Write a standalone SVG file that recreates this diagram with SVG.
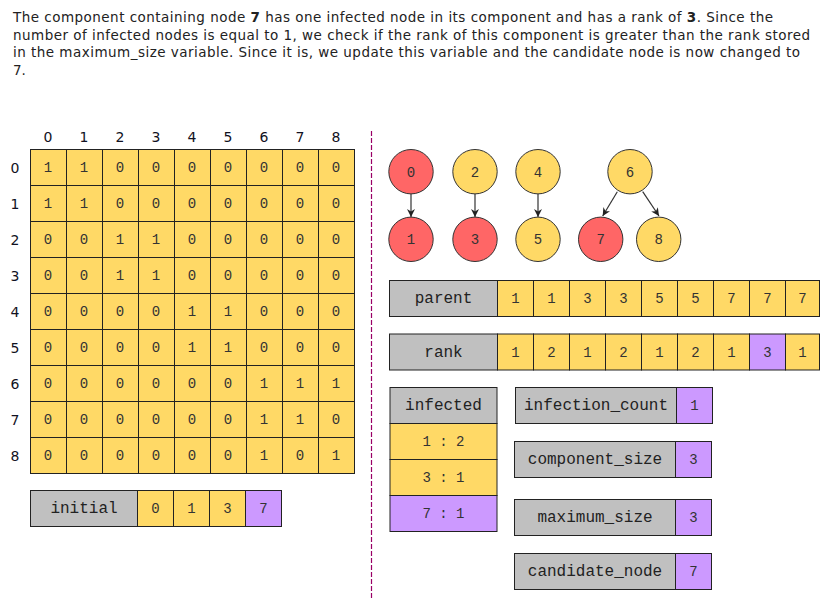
<svg xmlns="http://www.w3.org/2000/svg" width="827" height="600" viewBox="0 0 827 600">
<style>
.y{fill:#FFD966;stroke:#222;stroke-width:1}
.p{fill:#CC99FF;stroke:#222;stroke-width:1}
.g{fill:#C0C0C0;stroke:#222;stroke-width:1}
.r{fill:#FF6666;stroke:#333;stroke-width:1}
.ny{fill:#FFD966;stroke:#333;stroke-width:1}
.t{font-family:"Liberation Mono","Courier New",monospace;font-size:14px;fill:#333;text-anchor:middle}
.l{font-family:"Liberation Mono","Courier New",monospace;font-size:16px;fill:#222;text-anchor:middle}
.h{font-family:"DejaVu Sans",Verdana,sans-serif;font-size:14px;fill:#112;text-anchor:middle}
.para{font-family:"DejaVu Sans",Verdana,sans-serif;font-size:13.5px;fill:#222}
.e{stroke:#333;stroke-width:1.2;fill:none;marker-end:url(#ah)}
</style>
<defs>
<marker id="ah" viewBox="0 0 10 10" refX="10" refY="5" markerWidth="8" markerHeight="8" markerUnits="userSpaceOnUse" orient="auto">
<path d="M0,0 L10,5 L0,10 L3,5 Z" fill="#222"/>
</marker>
</defs>
<rect width="827" height="600" fill="#fff"/>
<g id="paragraph">
<text class="para" x="13" y="22" textLength="760" lengthAdjust="spacing">The component containing node <tspan font-weight="bold">7</tspan> has one infected node in its component and has a rank of <tspan font-weight="bold">3</tspan>. Since the</text>
<text class="para" x="13" y="39.5" textLength="797" lengthAdjust="spacing">number of infected nodes is equal to 1, we check if the rank of this component is greater than the rank stored</text>
<text class="para" x="13" y="57" textLength="787" lengthAdjust="spacing">in the maximum_size variable. Since it is, we update this variable and the candidate node is now changed to</text>
<text class="para" x="13" y="74.5">7.</text>
</g>
<line x1="371.5" y1="131" x2="371.5" y2="600" stroke="#990066" stroke-width="1.2" stroke-dasharray="5,2"/>
<g id="matrix">
<g class="h">
<text x="48" y="142">0</text><text x="84" y="142">1</text><text x="120" y="142">2</text><text x="156" y="142">3</text><text x="192" y="142">4</text><text x="228" y="142">5</text><text x="264" y="142">6</text><text x="300" y="142">7</text><text x="336" y="142">8</text>
<text x="15" y="172.5">0</text><text x="15" y="208.5">1</text><text x="15" y="244.5">2</text><text x="15" y="280.5">3</text><text x="15" y="316.5">4</text><text x="15" y="352.5">5</text><text x="15" y="388.5">6</text><text x="15" y="424.5">7</text><text x="15" y="460.5">8</text>
</g>
<g id="cells">
<rect class="y" x="30.5" y="149.5" width="324" height="324"/>
<path d="M66.5,149.5V473.5M102.5,149.5V473.5M138.5,149.5V473.5M174.5,149.5V473.5M210.5,149.5V473.5M246.5,149.5V473.5M282.5,149.5V473.5M318.5,149.5V473.5M30.5,185.5H354.5M30.5,221.5H354.5M30.5,257.5H354.5M30.5,293.5H354.5M30.5,329.5H354.5M30.5,365.5H354.5M30.5,401.5H354.5M30.5,437.5H354.5" stroke="#222" stroke-width="1" fill="none"/>
</g>
<g class="t">
<text x="48" y="172">1</text><text x="84" y="172">1</text><text x="120" y="172">0</text><text x="156" y="172">0</text><text x="192" y="172">0</text><text x="228" y="172">0</text><text x="264" y="172">0</text><text x="300" y="172">0</text><text x="336" y="172">0</text>
<text x="48" y="208">1</text><text x="84" y="208">1</text><text x="120" y="208">0</text><text x="156" y="208">0</text><text x="192" y="208">0</text><text x="228" y="208">0</text><text x="264" y="208">0</text><text x="300" y="208">0</text><text x="336" y="208">0</text>
<text x="48" y="244">0</text><text x="84" y="244">0</text><text x="120" y="244">1</text><text x="156" y="244">1</text><text x="192" y="244">0</text><text x="228" y="244">0</text><text x="264" y="244">0</text><text x="300" y="244">0</text><text x="336" y="244">0</text>
<text x="48" y="280">0</text><text x="84" y="280">0</text><text x="120" y="280">1</text><text x="156" y="280">1</text><text x="192" y="280">0</text><text x="228" y="280">0</text><text x="264" y="280">0</text><text x="300" y="280">0</text><text x="336" y="280">0</text>
<text x="48" y="316">0</text><text x="84" y="316">0</text><text x="120" y="316">0</text><text x="156" y="316">0</text><text x="192" y="316">1</text><text x="228" y="316">1</text><text x="264" y="316">0</text><text x="300" y="316">0</text><text x="336" y="316">0</text>
<text x="48" y="352">0</text><text x="84" y="352">0</text><text x="120" y="352">0</text><text x="156" y="352">0</text><text x="192" y="352">1</text><text x="228" y="352">1</text><text x="264" y="352">0</text><text x="300" y="352">0</text><text x="336" y="352">0</text>
<text x="48" y="388">0</text><text x="84" y="388">0</text><text x="120" y="388">0</text><text x="156" y="388">0</text><text x="192" y="388">0</text><text x="228" y="388">0</text><text x="264" y="388">1</text><text x="300" y="388">1</text><text x="336" y="388">1</text>
<text x="48" y="424">0</text><text x="84" y="424">0</text><text x="120" y="424">0</text><text x="156" y="424">0</text><text x="192" y="424">0</text><text x="228" y="424">0</text><text x="264" y="424">1</text><text x="300" y="424">1</text><text x="336" y="424">0</text>
<text x="48" y="460">0</text><text x="84" y="460">0</text><text x="120" y="460">0</text><text x="156" y="460">0</text><text x="192" y="460">0</text><text x="228" y="460">0</text><text x="264" y="460">1</text><text x="300" y="460">0</text><text x="336" y="460">1</text>
</g>
</g>
<g id="initial">
<rect class="g" x="30.5" y="490.5" width="107" height="36"/>
<rect class="y" x="137.5" y="490.5" width="36" height="36"/>
<rect class="y" x="173.5" y="490.5" width="36" height="36"/>
<rect class="y" x="209.5" y="490.5" width="36" height="36"/>
<rect class="p" x="245.5" y="490.5" width="36" height="36"/>
<text class="l" x="84" y="513">initial</text>
<text class="t" x="155.5" y="513">0</text><text class="t" x="191.5" y="513">1</text><text class="t" x="227.5" y="513">3</text><text class="t" x="263.5" y="513">7</text>
</g>
<g id="connectors">
<line class="e" x1="411" y1="194" x2="411" y2="217"/>
<line class="e" x1="475" y1="194" x2="475" y2="217"/>
<line class="e" x1="538" y1="194" x2="538" y2="217"/>
<line class="e" x1="617.3" y1="191.7" x2="602.7" y2="216"/>
<line class="e" x1="642.7" y1="191.7" x2="659" y2="216"/>
</g>
<g id="node0"><circle class="r" cx="411" cy="171.7" r="22.2"/><text class="t" x="411" y="176.5">0</text></g>
<g id="node2"><circle class="ny" cx="475" cy="171.7" r="22.2"/><text class="t" x="475" y="176.5">2</text></g>
<g id="node4"><circle class="ny" cx="538" cy="171.7" r="22.2"/><text class="t" x="538" y="176.5">4</text></g>
<g id="node6"><circle class="ny" cx="630" cy="171.7" r="22.2"/><text class="t" x="630" y="176.5">6</text></g>
<g id="node1"><circle class="r" cx="411" cy="239.3" r="22.2"/><text class="t" x="411" y="244">1</text></g>
<g id="node3"><circle class="r" cx="475" cy="239.3" r="22.2"/><text class="t" x="475" y="244">3</text></g>
<g id="node5"><circle class="ny" cx="538" cy="239.3" r="22.2"/><text class="t" x="538" y="244">5</text></g>
<g id="node7"><circle class="r" cx="600.7" cy="239.3" r="22.2"/><text class="t" x="600.7" y="244">7</text></g>
<g id="node8"><circle class="ny" cx="658.7" cy="239.3" r="22.2"/><text class="t" x="658.7" y="244">8</text></g>
<g id="parent">
<rect class="g" x="389.5" y="280.5" width="108" height="36"/>
<rect class="y" x="497.5" y="280.5" width="36" height="36"/><rect class="y" x="533.5" y="280.5" width="36" height="36"/><rect class="y" x="569.5" y="280.5" width="36" height="36"/><rect class="y" x="605.5" y="280.5" width="36" height="36"/><rect class="y" x="641.5" y="280.5" width="36" height="36"/><rect class="y" x="677.5" y="280.5" width="36" height="36"/><rect class="y" x="713.5" y="280.5" width="36" height="36"/><rect class="y" x="749.5" y="280.5" width="36" height="36"/><rect class="y" x="785.5" y="280.5" width="34" height="36"/>
<text class="l" x="443.5" y="303">parent</text>
<g class="t"><text x="515.5" y="303">1</text><text x="551.5" y="303">1</text><text x="587.5" y="303">3</text><text x="623.5" y="303">3</text><text x="659.5" y="303">5</text><text x="695.5" y="303">5</text><text x="731.5" y="303">7</text><text x="767.5" y="303">7</text><text x="802.5" y="303">7</text></g>
</g>
<g id="rank">
<rect class="g" x="389.5" y="334" width="108" height="36"/>
<rect class="y" x="497.5" y="334" width="36" height="36"/><rect class="y" x="533.5" y="334" width="36" height="36"/><rect class="y" x="569.5" y="334" width="36" height="36"/><rect class="y" x="605.5" y="334" width="36" height="36"/><rect class="y" x="641.5" y="334" width="36" height="36"/><rect class="y" x="677.5" y="334" width="36" height="36"/><rect class="y" x="713.5" y="334" width="36" height="36"/><rect class="p" x="749.5" y="334" width="36" height="36"/><rect class="y" x="785.5" y="334" width="34" height="36"/>
<text class="l" x="443.5" y="356.5">rank</text>
<g class="t"><text x="515.5" y="356.5">1</text><text x="551.5" y="356.5">2</text><text x="587.5" y="356.5">1</text><text x="623.5" y="356.5">2</text><text x="659.5" y="356.5">1</text><text x="695.5" y="356.5">2</text><text x="731.5" y="356.5">1</text><text x="767.5" y="356.5">3</text><text x="802.5" y="356.5">1</text></g>
</g>
<g id="infected">
<rect class="g" x="390" y="387.5" width="107" height="36"/>
<rect class="y" x="390" y="423.5" width="107" height="36"/>
<rect class="y" x="390" y="459.5" width="107" height="36"/>
<rect class="p" x="390" y="495.5" width="107" height="36"/>
<text class="l" x="443.5" y="410">infected</text>
<text class="t" x="443.5" y="445.5">1 : 2</text>
<text class="t" x="443.5" y="481.5">3 : 1</text>
<text class="t" x="443.5" y="517.5">7 : 1</text>
</g>
<g id="infection_count">
<rect class="g" x="515.5" y="387.5" width="161" height="36"/><rect class="p" x="676.5" y="387.5" width="36" height="36"/>
<text class="l" x="596" y="410">infection_count</text><text class="t" x="694.5" y="410">1</text>
</g>
<g id="component_size">
<rect class="g" x="514.5" y="441.5" width="161" height="36"/><rect class="p" x="675.5" y="441.5" width="36" height="36"/>
<text class="l" x="595" y="464">component_size</text><text class="t" x="693.5" y="464">3</text>
</g>
<g id="maximum_size">
<rect class="g" x="514.5" y="499.5" width="161" height="36"/><rect class="p" x="675.5" y="499.5" width="36" height="36"/>
<text class="l" x="595" y="522">maximum_size</text><text class="t" x="693.5" y="522">3</text>
</g>
<g id="candidate_node">
<rect class="g" x="514.5" y="553.5" width="161" height="36"/><rect class="p" x="675.5" y="553.5" width="36" height="36"/>
<text class="l" x="595" y="576">candidate_node</text><text class="t" x="693.5" y="576">7</text>
</g>
</svg>
